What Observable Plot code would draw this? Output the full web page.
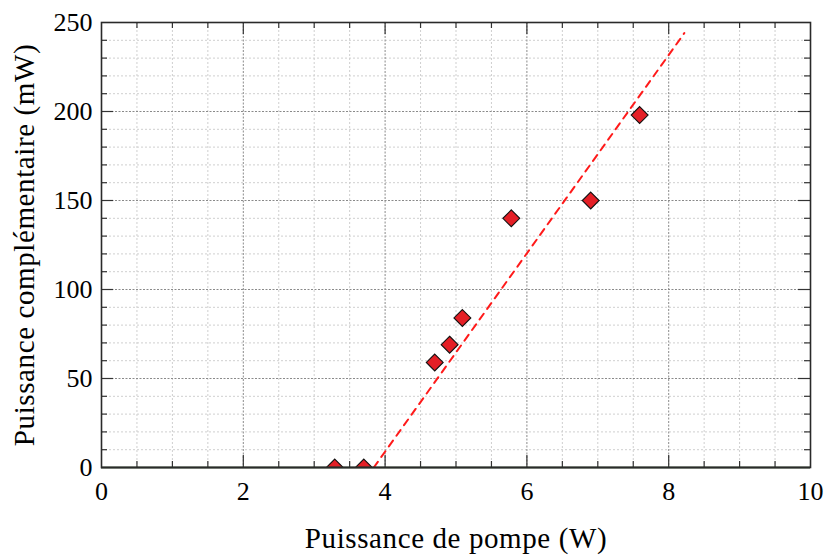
<!DOCTYPE html>
<html>
<head>
<meta charset="utf-8">
<script src="https://cdn.jsdelivr.net/npm/d3@7"></script>
<script src="https://cdn.jsdelivr.net/npm/@observablehq/plot@0.6"></script>
<style>
  html, body { margin: 0; padding: 0; background: #fff; }
</style>
</head>
<body>
<div id="chart"></div>
<script>
// Measured points: pump power (W) vs idler power (mW)
const pumpPower = [3.29, 3.70, 4.70, 4.91, 5.09, 5.78, 6.90, 7.59];
const idlerPower = [0, 0, 59, 69, 84, 140, 150, 198];
// Linear fit (dashed line) endpoints
const fitPump = [3.84, 8.22];
const fitIdler = [0, 244];
// Tick labels
const xTickLabels = [0, 2, 4, 6, 8, 10];
const yTickLabels = [0, 50, 100, 150, 200, 250];
const xLabel = "Puissance de pompe (W)";
const yLabel = "Puissance complémentaire (mW)";

const points = pumpPower.map((p, i) => ({p, q: idlerPower[i]}));
const fit = fitPump.map((p, i) => ({p, q: fitIdler[i]}));

const W = 824, H = 555;
const mL = 101, mR = 14, mT = 22, mB = 88;
const innerW = W - mL - mR, innerH = H - mT - mB;

const xMinor = d3.range(0.5, 10, 0.5).filter(v => v % 2 !== 0);
const xMajor = [2, 4, 6, 8];
const yMinor = d3.range(10, 250, 10).filter(v => v % 50 !== 0);
const yMajor = [50, 100, 150, 200];
const tickColor = "#333";

const chart = Plot.plot({
  width: W, height: H,
  marginLeft: mL, marginRight: mR, marginTop: mT, marginBottom: mB,
  style: {fontFamily: "'Liberation Serif', serif", background: "#fff", color: "#000"},
  x: {domain: [0, 10]},
  y: {domain: [0, 250]},
  marks: [
    // grid
    Plot.ruleX(xMinor, {stroke: "#cfcfcf", strokeWidth: 1, strokeDasharray: "2,2"}),
    Plot.ruleY(yMinor, {stroke: "#cfcfcf", strokeWidth: 1, strokeDasharray: "2,2"}),
    Plot.ruleX(xMajor, {stroke: "#8a8a8a", strokeWidth: 1, strokeDasharray: "2,1.5"}),
    Plot.ruleY(yMajor, {stroke: "#8a8a8a", strokeWidth: 1, strokeDasharray: "2,1.5"}),
    // inner ticks bottom/top
    Plot.ruleX(xMinor, {stroke: tickColor, strokeWidth: 1.2, insetTop: innerH - 6}),
    Plot.ruleX(xMajor, {stroke: tickColor, strokeWidth: 1.2, insetTop: innerH - 12}),
    Plot.ruleX(xMinor, {stroke: tickColor, strokeWidth: 1.2, insetBottom: innerH - 6}),
    Plot.ruleX(xMajor, {stroke: tickColor, strokeWidth: 1.2, insetBottom: innerH - 12}),
    // inner ticks left/right
    Plot.ruleY(yMinor, {stroke: tickColor, strokeWidth: 1.2, insetRight: innerW - 6}),
    Plot.ruleY(yMajor, {stroke: tickColor, strokeWidth: 1.2, insetRight: innerW - 12}),
    Plot.ruleY(yMinor, {stroke: tickColor, strokeWidth: 1.2, insetLeft: innerW - 6}),
    Plot.ruleY(yMajor, {stroke: tickColor, strokeWidth: 1.2, insetLeft: innerW - 12}),
    // fit line
    Plot.line(fit, {x: "p", y: "q", stroke: "#ff1a1a", strokeWidth: 2, strokeDasharray: "7,6", clip: true}),
    // data
    Plot.dot(points, {x: "p", y: "q", symbol: "diamond2", r: 7.6, fill: "#e41f26", stroke: "#111", strokeWidth: 1.1, clip: true}),
    // zero line
    Plot.ruleY([0], {stroke: "#2b3d28", strokeWidth: 2}),
    Plot.frame({stroke: "#2a2a2a", strokeWidth: 1.6}),
    // axes
    Plot.axisX(xTickLabels, {tickSize: 0, tickPadding: 14, fontSize: 26, tickFormat: d => String(d),
      label: xLabel, labelAnchor: "center", labelOffset: 80, labelArrow: "none"}),
    Plot.axisY(yTickLabels, {tickSize: 0, tickPadding: 9, fontSize: 26, tickFormat: d => String(d),
      label: yLabel, labelAnchor: "center", labelOffset: 88, labelArrow: "none"})
  ]
});
// Larger, wider axis titles (closer to the LaTeX look of the original)
d3.select(chart).selectAll("g[aria-label='x-axis label'] text, g[aria-label='y-axis label'] text")
  .attr("font-size", 29).style("letter-spacing", "0.6px");
document.getElementById("chart").appendChild(chart);
</script>
</body>
</html>
